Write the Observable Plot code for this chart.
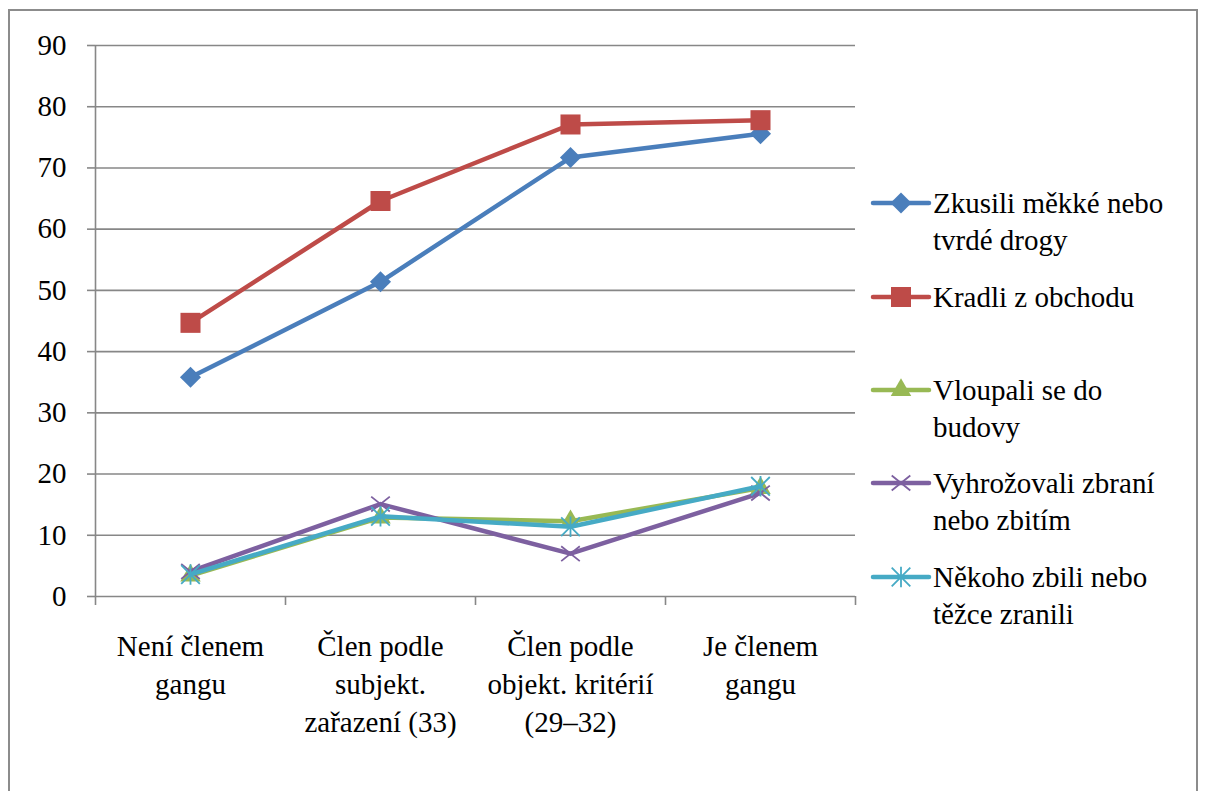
<!DOCTYPE html>
<html><head><meta charset="utf-8">
<script src="https://cdn.jsdelivr.net/npm/d3@7"></script>
<script src="https://cdn.jsdelivr.net/npm/@observablehq/plot@0.6"></script>
<style>
body{margin:0;background:#fff;}
#wrap{position:relative;width:1206px;height:791px;overflow:hidden;background:#fff;}
#frame{position:absolute;left:8px;top:9px;width:1190px;height:900px;border:2px solid #8c8c8c;box-sizing:border-box;}
#chart{position:absolute;left:0;top:0;}
#legend{position:absolute;left:0;top:0;}
</style></head><body>
<div id="wrap"><div id="frame"></div><div id="chart"></div><svg id="legend" width="1206" height="791"></svg></div>
<script>
// ---- data ----
const categories = ["Není členem\ngangu", "Člen podle\nsubjekt.\nzařazení (33)", "Člen podle\nobjekt. kritérií\n(29–32)", "Je členem\ngangu"];
const seriesNames = ["Zkusili měkké nebo\ntvrdé drogy", "Kradli z obchodu", "Vloupali se do\nbudovy", "Vyhrožovali zbraní\nnebo zbitím", "Někoho zbili nebo\ntěžce zranili"];
const drogy = [35.8, 51.4, 71.7, 75.6];
const kradli = [44.7, 64.6, 77.1, 77.8];
const vloupali = [3.4, 12.9, 12.3, 17.7];
const vyhrozovali = [4.1, 15.1, 7.0, 16.9];
const zbili = [3.6, 13.1, 11.4, 18.0];
const yTicks = [0, 10, 20, 30, 40, 50, 60, 70, 80, 90];
const colors = ["#4a7ebb", "#be4b48", "#98b954", "#7d60a0", "#46aac5"];

const asterisk = {draw(ctx, size){ const r = Math.sqrt(size) * 0.5;
  ctx.moveTo(-r, -r); ctx.lineTo(r, r); ctx.moveTo(r, -r); ctx.lineTo(-r, r); ctx.moveTo(0, -r*1.1); ctx.lineTo(0, r*1.1); }};
const timesSym = {draw(ctx, size){ const r = Math.sqrt(size) * 0.5;
  ctx.moveTo(-r, -r*0.8); ctx.lineTo(r, r*0.8); ctx.moveTo(r, -r*0.8); ctx.lineTo(-r, r*0.8); }};

const seriesValues = [drogy, kradli, vloupali, vyhrozovali, zbili];
const markerStyles = [
  {symbol: "diamond2", r: 9.5, fill: true},
  {symbol: "square", r: 11.3, fill: true},
  {symbol: "triangle", r: 7.6, fill: true},
  {symbol: timesSym, r: 10.5, fill: false},
  {symbol: asterisk, r: 10.5, fill: false}
];

const rows = [];
seriesValues.forEach((vals, s) => vals.forEach((v, i) => rows.push({s, x: i + 0.5, y: v})));

const FONT = '"Liberation Serif", Tinos, "Times New Roman", Times, "Nimbus Roman", "Nimbus Roman No9 L", FreeSerif, "Noto Serif", "DejaVu Serif", "Noto Serif CJK SC", serif';
const marks = [
  Plot.ruleY(yTicks, {stroke: "#878787", strokeWidth: 1.6}),
  Plot.ruleX([0], {stroke: "#878787", strokeWidth: 1.6}),
  Plot.axisY({ticks: yTicks, tickSize: 8, tickPadding: 21, stroke: "#878787", strokeWidth: 1.6, fill: "#000", fontSize: 29, label: null, tickFormat: d => d}),
  Plot.axisX({ticks: [0, 1, 2, 3, 4], tickSize: 9, stroke: "#878787", strokeWidth: 1.6, tickFormat: () => "", label: null}),
  Plot.text(categories, {x: (d, i) => i + 0.5, y: 0, text: d => d, dy: 33, lineAnchor: "top", lineHeight: 1.3, fontSize: 29, fill: "#000"})
];
seriesValues.forEach((vals, s) => {
  const data = rows.filter(d => d.s === s);
  const m = markerStyles[s];
  marks.push(Plot.line(data, {x: "x", y: "y", stroke: colors[s], strokeWidth: 4.5, strokeLinejoin: "round", strokeLinecap: "round"}));
  marks.push(Plot.dot(data, {x: "x", y: "y", symbol: m.symbol, r: m.r,
    fill: m.fill ? colors[s] : "none", stroke: m.fill ? "none" : colors[s], strokeWidth: m.fill ? 0 : 1.8}));
});

const plot = Plot.plot({
  width: 1206, height: 791,
  marginLeft: 95, marginRight: 351, marginTop: 45, marginBottom: 195,
  style: {fontFamily: FONT, fontSize: "29px", background: "transparent", color: "#000", overflow: "visible"},
  x: {type: "linear", domain: [0, 4], axis: null},
  y: {domain: [0, 90], axis: null},
  marks
});
document.getElementById("chart").appendChild(plot);

// ---- legend ----
const leg = d3.select("#legend");
const lineYs = [203, 297, 390, 483, 577];
seriesNames.forEach((name, s) => {
  const y = lineYs[s];
  const g = leg.append("g");
  g.append("line").attr("x1", 873).attr("x2", 929).attr("y1", y).attr("y2", y)
    .attr("stroke", colors[s]).attr("stroke-width", 4.5).attr("stroke-linecap", "round");
  const m = markerStyles[s];
  const sym = typeof m.symbol === "string" ? {diamond2: d3.symbolDiamond2, square: d3.symbolSquare, triangle: d3.symbolTriangle}[m.symbol] : m.symbol;
  g.append("path").attr("transform", `translate(901,${y})`)
    .attr("d", d3.symbol(sym, m.r * m.r * Math.PI)())
    .attr("fill", m.fill ? colors[s] : "none").attr("stroke", m.fill ? "none" : colors[s]).attr("stroke-width", 1.8);
  const t = g.append("text").attr("x", 933).attr("y", y + 10)
    .style("font-family", FONT).attr("font-size", 29).attr("fill", "#000");
  name.split("\n").forEach((ln, i) => t.append("tspan").attr("x", 933).attr("dy", i === 0 ? 0 : 37).text(ln));
});
</script>
</body></html>
